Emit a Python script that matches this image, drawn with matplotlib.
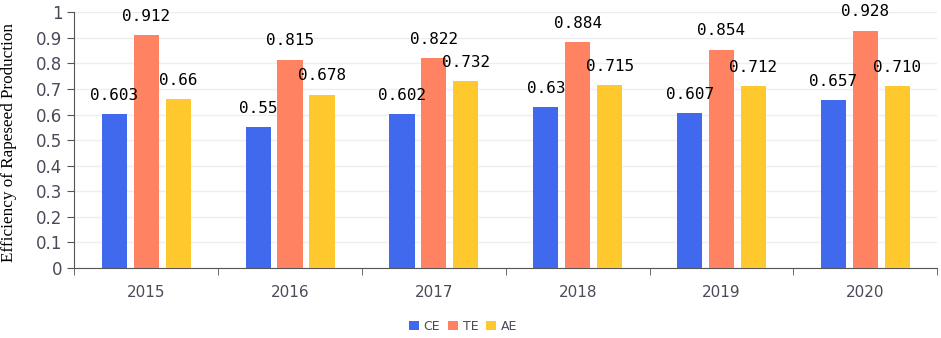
import matplotlib.pyplot as plt
import numpy as np

years = ["2015", "2016", "2017", "2018", "2019", "2020"]
ce = [0.603, 0.55, 0.602, 0.63, 0.607, 0.657]
te = [0.912, 0.815, 0.822, 0.884, 0.854, 0.928]
ae = [0.66, 0.678, 0.732, 0.715, 0.712, 0.710]
ce_labels = ["0.603", "0.55", "0.602", "0.63", "0.607", "0.657"]
te_labels = ["0.912", "0.815", "0.822", "0.884", "0.854", "0.928"]
ae_labels = ["0.66", "0.678", "0.732", "0.715", "0.712", "0.710"]

colors = ["#4169EE", "#FF8262", "#FFC82C"]
txt_col = "#4a4a5a"

fig = plt.figure(figsize=(9.41, 3.38), dpi=100)
ax = fig.add_axes([0.079, 0.207, 0.917, 0.757])

x = np.arange(len(years))
w = 0.175
off = 0.222
series = [(ce, ce_labels, "CE"), (te, te_labels, "TE"), (ae, ae_labels, "AE")]
for i, (vals, labs, name) in enumerate(series):
    pos = x + (i - 1) * off
    ax.bar(pos, vals, width=w, color=colors[i], label=name, zorder=3)
    for px, v, s in zip(pos, vals, labs):
        ax.annotate(s, (px, v), xytext=(0, 8), textcoords="offset points",
                    ha="center", va="bottom", fontsize=11.5,
                    family="DejaVu Sans Mono", color="black", zorder=4)

ax.set_xlim(-0.5, len(years) - 0.5)
ax.set_ylim(0, 1)
ax.set_yticks(np.arange(0, 1.01, 0.1))
ax.set_yticklabels(["0"] + ["0.%d" % k for k in range(1, 10)] + ["1"])
ax.set_xticks(x)
ax.set_xticklabels(years)
ax.set_xticks(np.arange(-0.5, len(years)), minor=True)
ax.tick_params(axis="x", which="major", length=0, pad=12, labelsize=11, labelcolor=txt_col)
ax.tick_params(axis="x", which="minor", length=5, color="#555555", direction="out")
ax.tick_params(axis="y", length=5, color="#555555", labelsize=12, labelcolor=txt_col)
ax.grid(axis="y", color="#eeeeee", linewidth=1, zorder=0)
for s in ["top", "right"]:
    ax.spines[s].set_visible(False)
ax.spines["left"].set_color("#555555")
ax.spines["bottom"].set_color("#555555")
ax.set_ylabel("Efficiency of Rapeseed Production", family="Liberation Serif",
              fontsize=12.3)
ax.yaxis.set_label_coords(-0.066, 0.49)

fig.legend(loc="center", bbox_to_anchor=(0.492, 0.035), ncol=3, frameon=False,
           fontsize=9, handlelength=0.8, handleheight=0.8, handletextpad=0.4,
           columnspacing=0.6, labelcolor=txt_col)

fig.savefig("out.png", dpi=100)
